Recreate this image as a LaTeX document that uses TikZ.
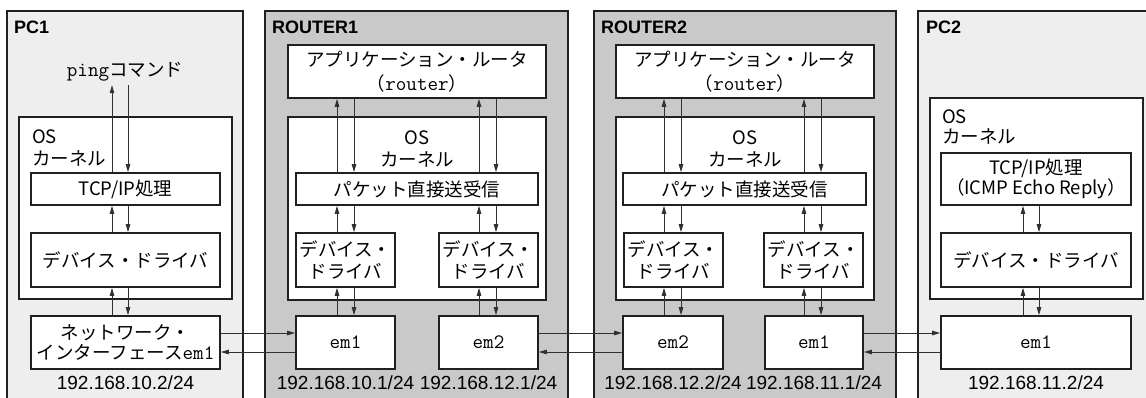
\documentclass[tikz,border=0pt]{standalone}
\usepackage{fontspec}
\usetikzlibrary{arrows.meta}
\newfontfamily\jpfont{Noto Sans CJK JP}
\newfontfamily\hvfont{Liberation Sans}
\definecolor{ink}{HTML}{231F20}
\definecolor{wire}{HTML}{333031}
\definecolor{pcgray}{HTML}{EEEEEE}
\definecolor{rtgray}{HTML}{C9C9C9}
\newcommand\jpf{\jpfont\fontsize{18.5}{21.5}\selectfont}
\newcommand\ipf{\hvfont\fontsize{19}{22}\selectfont}
\newcommand\ttlf{\hvfont\bfseries\fontsize{18}{22}\selectfont}
\newcommand\codetxt[1]{{\ttfamily\fontsize{20.5}{21.5}\selectfont #1}}
% box from (x1,y1) to (x2,y2): name, x1, y1, x2, y2, style, text
\newcommand\bx[7]{\node[#6,minimum width={(#4)-(#2)},minimum height={(#5)-(#3)}] (#1) at ({((#2)+(#4))/2},{((#3)+(#5))/2}) {#7};}
\begin{document}
\begin{tikzpicture}[x=1pt,y=-1pt,
  pcbg/.style={draw=ink,line width=1.7pt,fill=pcgray},
  rtbg/.style={draw=ink,line width=1.7pt,fill=rtgray},
  blk/.style={draw=ink,line width=1.7pt,fill=white,inner sep=0pt,align=center,font=\jpf},
  jptxt/.style={font=\jpf,inner sep=0pt,align=center},
  ttl/.style={font=\ttlf,inner sep=0pt,anchor=west},
  ip/.style={font=\ipf,inner sep=0pt},
  arr/.style={draw=wire,line width=0.9pt,-{Triangle[length=8pt,width=4.5pt]}}]
\clip (0,0) rectangle (1146,397);

% rows used by the links and the address labels
\coordinate (ytop) at (0,333);
\coordinate (ybot) at (0,352);
\coordinate (ipy) at (0,383);

% ---------------- PC1 ----------------
\path[pcbg] (7,11) rectangle (243,420);
\node[ttl] (pc1-name) at (14,27) {PC1};
\node[jptxt,minimum height=26pt] (ping) at (125,72) {\codetxt{ping}コマンド};
\bx{pc1-os}{19}{117}{232}{299}{blk}{}
\node[jptxt,anchor=west,align=left] (pc1-kt) at (32,148) {OS\\カーネル};
\bx{pc1-tcp}{31}{173}{220}{205}{blk}{TCP/IP処理}
\bx{pc1-dev}{31}{233}{220}{287}{blk}{デバイス・ドライバ}
\bx{pc1-nic}{31}{316}{220}{369}{blk}{ネットワーク・\\[-1.5pt]インターフェース\codetxt{em1}}
\node[ip] (pc1-ip) at (pc1-nic.south |- ipy) {192.168.10.2/24};
\coordinate (p1u) at (112,0);
\coordinate (p1d) at (128,0);
\draw[arr] (pc1-tcp.north -| p1u) -- (ping.south -| p1u);
\draw[arr] (ping.south -| p1d) -- (pc1-tcp.north -| p1d);
\draw[arr] (pc1-dev.north -| p1u) -- (pc1-tcp.south -| p1u);
\draw[arr] (pc1-tcp.south -| p1d) -- (pc1-dev.north -| p1d);
\draw[arr] (pc1-nic.north -| p1u) -- (pc1-dev.south -| p1u);
\draw[arr] (pc1-dev.south -| p1d) -- (pc1-nic.north -| p1d);

% ---------------- ROUTER1 ----------------
\path[rtbg] (265,11) rectangle (568,420);
\node[ttl] (r1-name) at (272,27) {ROUTER1};
\bx{r1-app}{288}{45}{546}{98}{blk}{アプリケーション・ルータ\\[2pt]（\codetxt{router}）}
\bx{r1-os}{288}{117}{546}{300}{blk}{}
\node[jptxt] (r1-kt) at (417,149) {OS\\カーネル};
\bx{r1-pkt}{296}{173}{538}{205}{blk}{パケット直接送受信}
\bx{r1-devA}{296}{233}{395}{287}{blk}{デバイス・\\ドライバ}
\bx{r1-devB}{439}{233}{538}{287}{blk}{デバイス・\\ドライバ}
\bx{r1-emA}{296}{316}{395}{369}{blk}{\codetxt{em1}}
\bx{r1-emB}{439}{316}{538}{369}{blk}{\codetxt{em2}}
\node[ip] (r1-ipA) at (r1-emA.south |- ipy) {192.168.10.1/24};
\node[ip] (r1-ipB) at (r1-emB.south |- ipy) {192.168.12.1/24};
\coordinate (r1au) at (337,0);
\coordinate (r1ad) at (354,0);
\coordinate (r1bu) at (479,0);
\coordinate (r1bd) at (496,0);
\draw[arr] (r1-pkt.north -| r1au) -- (r1-app.south -| r1au);
\draw[arr] (r1-app.south -| r1ad) -- (r1-pkt.north -| r1ad);
\draw[arr] (r1-pkt.north -| r1bu) -- (r1-app.south -| r1bu);
\draw[arr] (r1-app.south -| r1bd) -- (r1-pkt.north -| r1bd);
\draw[arr] (r1-devA.north -| r1au) -- (r1-pkt.south -| r1au);
\draw[arr] (r1-pkt.south -| r1ad) -- (r1-devA.north -| r1ad);
\draw[arr] (r1-devB.north -| r1bu) -- (r1-pkt.south -| r1bu);
\draw[arr] (r1-pkt.south -| r1bd) -- (r1-devB.north -| r1bd);
\draw[arr] (r1-emA.north -| r1au) -- (r1-devA.south -| r1au);
\draw[arr] (r1-devA.south -| r1ad) -- (r1-emA.north -| r1ad);
\draw[arr] (r1-emB.north -| r1bu) -- (r1-devB.south -| r1bu);
\draw[arr] (r1-devB.south -| r1bd) -- (r1-emB.north -| r1bd);

% ---------------- ROUTER2 ----------------
\path[rtbg] (594,11) rectangle (896,420);
\node[ttl] (r2-name) at (601,27) {ROUTER2};
\bx{r2-app}{616}{45}{874}{98}{blk}{アプリケーション・ルータ\\[2pt]（\codetxt{router}）}
\bx{r2-os}{616}{117}{874}{300}{blk}{}
\node[jptxt] (r2-kt) at (745,149) {OS\\カーネル};
\bx{r2-pkt}{623}{173}{866}{205}{blk}{パケット直接送受信}
\bx{r2-devA}{624}{233}{723}{287}{blk}{デバイス・\\ドライバ}
\bx{r2-devB}{764}{233}{863}{287}{blk}{デバイス・\\ドライバ}
\bx{r2-emA}{623}{316}{723}{369}{blk}{\codetxt{em2}}
\bx{r2-emB}{765}{316}{863}{369}{blk}{\codetxt{em1}}
\node[ip] (r2-ipA) at (r2-emA.south |- ipy) {192.168.12.2/24};
\node[ip] (r2-ipB) at (r2-emB.south |- ipy) {192.168.11.1/24};
\coordinate (r2au) at (664,0);
\coordinate (r2ad) at (681,0);
\coordinate (r2bu) at (804,0);
\coordinate (r2bd) at (821,0);
\draw[arr] (r2-pkt.north -| r2au) -- (r2-app.south -| r2au);
\draw[arr] (r2-app.south -| r2ad) -- (r2-pkt.north -| r2ad);
\draw[arr] (r2-pkt.north -| r2bu) -- (r2-app.south -| r2bu);
\draw[arr] (r2-app.south -| r2bd) -- (r2-pkt.north -| r2bd);
\draw[arr] (r2-devA.north -| r2au) -- (r2-pkt.south -| r2au);
\draw[arr] (r2-pkt.south -| r2ad) -- (r2-devA.north -| r2ad);
\draw[arr] (r2-devB.north -| r2bu) -- (r2-pkt.south -| r2bu);
\draw[arr] (r2-pkt.south -| r2bd) -- (r2-devB.north -| r2bd);
\draw[arr] (r2-emA.north -| r2au) -- (r2-devA.south -| r2au);
\draw[arr] (r2-devA.south -| r2ad) -- (r2-emA.north -| r2ad);
\draw[arr] (r2-emB.north -| r2bu) -- (r2-devB.south -| r2bu);
\draw[arr] (r2-devB.south -| r2bd) -- (r2-emB.north -| r2bd);

% ---------------- PC2 ----------------
\path[pcbg] (918,11) rectangle (1160,420);
\node[ttl] (pc2-name) at (926,27) {PC2};
\bx{pc2-os}{930}{98}{1143}{299}{blk}{}
\node[jptxt,anchor=west,align=left] (pc2-kt) at (942,127) {OS\\[-1pt]カーネル};
\bx{pc2-tcp}{941}{153}{1131}{205}{blk}{TCP/IP処理\\[-1pt]（ICMP Echo Reply）}
\bx{pc2-dev}{941}{233}{1131}{287}{blk}{デバイス・ドライバ}
\bx{pc2-em}{941}{316}{1131}{369}{blk}{\codetxt{em1}}
\node[ip] (pc2-ip) at (pc2-em.south |- ipy) {192.168.11.2/24};
\coordinate (p2u) at (1023,0);
\coordinate (p2d) at (1039,0);
\draw[arr] (pc2-dev.north -| p2u) -- (pc2-tcp.south -| p2u);
\draw[arr] (pc2-tcp.south -| p2d) -- (pc2-dev.north -| p2d);
\draw[arr] (pc2-em.north -| p2u) -- (pc2-dev.south -| p2u);
\draw[arr] (pc2-dev.south -| p2d) -- (pc2-em.north -| p2d);

% ---------------- links between the interfaces ----------------
\draw[arr] (pc1-nic.east |- ytop) -- (r1-emA.west |- ytop);
\draw[arr] (r1-emA.west |- ybot) -- (pc1-nic.east |- ybot);
\draw[arr] (r1-emB.east |- ytop) -- (r2-emA.west |- ytop);
\draw[arr] (r2-emA.west |- ybot) -- (r1-emB.east |- ybot);
\draw[arr] (r2-emB.east |- ytop) -- (pc2-em.west |- ytop);
\draw[arr] (pc2-em.west |- ybot) -- (r2-emB.east |- ybot);
\end{tikzpicture}
\end{document}
